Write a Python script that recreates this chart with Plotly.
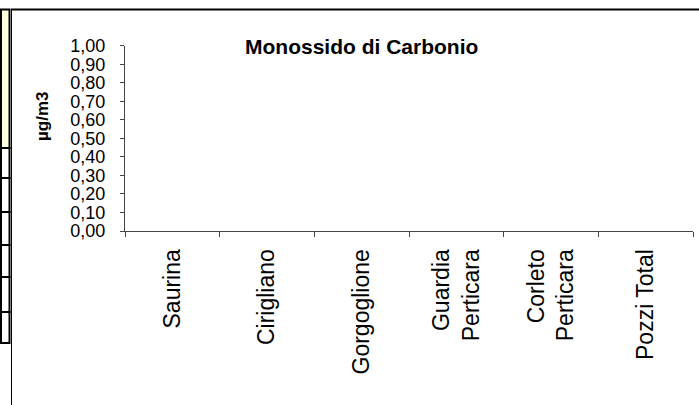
import plotly.graph_objects as go

# ---- data ----
categories = ["Saurina", "Cirigliano", "Gorgoglione", "Guardia Perticara", "Corleto Perticara", "Pozzi Total"]
category_labels = ["Saurina", "Cirigliano", "Gorgoglione", "Guardia<br>Perticara", "Corleto<br>Perticara", "Pozzi Total"]
values = [None, None, None, None, None, None]  # no measurements shown in the chart
y_ticks = [0.0, 0.1, 0.2, 0.3, 0.4, 0.5, 0.6, 0.7, 0.8, 0.9, 1.0]
title_text = "<b>Monossido di Carbonio</b>"
y_title_text = "<b>µg/m3</b>"

W, H = 699, 405
FONT = "Liberation Sans, Arial, sans-serif"

def px(x):
    return x / W

def py(y):
    return (H - y) / H

fig = go.Figure()
fig.add_trace(go.Bar(x=categories, y=values, marker_color="#000080", showlegend=False, hoverinfo="skip"))

shapes = []
# main chart frame (left and top edges visible)
shapes.append(dict(type="line", xref="paper", yref="paper", x0=px(11.5), x1=px(11.5), y0=py(420), y1=py(9.5),
                   line=dict(color="#000000", width=1)))
shapes.append(dict(type="line", xref="paper", yref="paper", x0=px(11), x1=px(699), y0=py(9.5), y1=py(9.5),
                   line=dict(color="#000000", width=2)))
# left strip (neighbouring object)
shapes.append(dict(type="rect", xref="paper", yref="paper", x0=px(1), x1=px(9.5), y0=py(148), y1=py(9.5),
                   line=dict(color="#000000", width=2), fillcolor="#FFFFE0", layer="below"))
for ya, yb in [(148, 178), (178, 212), (212, 245), (245, 277), (277, 312), (312, 343)]:
    shapes.append(dict(type="rect", xref="paper", yref="paper", x0=px(1), x1=px(9.5), y0=py(yb), y1=py(ya),
                       line=dict(color="#000000", width=2), fillcolor="#FFFFFF", layer="below"))

fig.update_layout(
    template="none",
    width=W, height=H,
    margin=dict(l=0, r=0, t=0, b=0, pad=0, autoexpand=False),
    paper_bgcolor="white", plot_bgcolor="white",
    separators=",.",
    font=dict(family=FONT, color="black"),
    shapes=shapes,
    annotations=[
        dict(text=title_text, xref="paper", yref="paper", x=px(361), y=py(46), xanchor="center", yanchor="middle",
             showarrow=False, font=dict(size=21, family=FONT, color="black")),
        dict(text=y_title_text, xref="paper", yref="paper", x=px(43), y=py(117), xanchor="center", yanchor="middle",
             textangle=-90, showarrow=False, font=dict(size=17, family=FONT, color="black")),
    ],
    xaxis=dict(
        domain=[px(125), px(693)],
        type="category", categoryorder="array", categoryarray=categories,
        tickvals=categories, ticktext=category_labels,
        range=[-0.5, 5.5], tickson="boundaries",
        ticks="outside", ticklen=5, tickcolor="#444444", tickwidth=1,
        showline=True, linecolor="#444444", linewidth=1,
        showgrid=False, zeroline=False, automargin=False,
        tickangle=-90, tickfont=dict(size=23, family=FONT, color="black"),
        ticklabelstandoff=8, fixedrange=True,
    ),
    yaxis=dict(
        domain=[py(231), py(45.7)],
        range=[0, 1], tickvals=y_ticks, tickformat=".2f",
        ticks="outside", ticklen=4, tickcolor="#444444", tickwidth=1,
        showline=True, linecolor="#444444", linewidth=1,
        showgrid=False, zeroline=False, automargin=False,
        tickfont=dict(size=18, family=FONT, color="black"),
        ticklabelstandoff=11, fixedrange=True,
    ),
)

fig.write_html(
    "out.html",
    config={"displayModeBar": False, "staticPlot": True},
    post_script="document.body.style.margin='0px';document.body.style.overflow='hidden';",
)
